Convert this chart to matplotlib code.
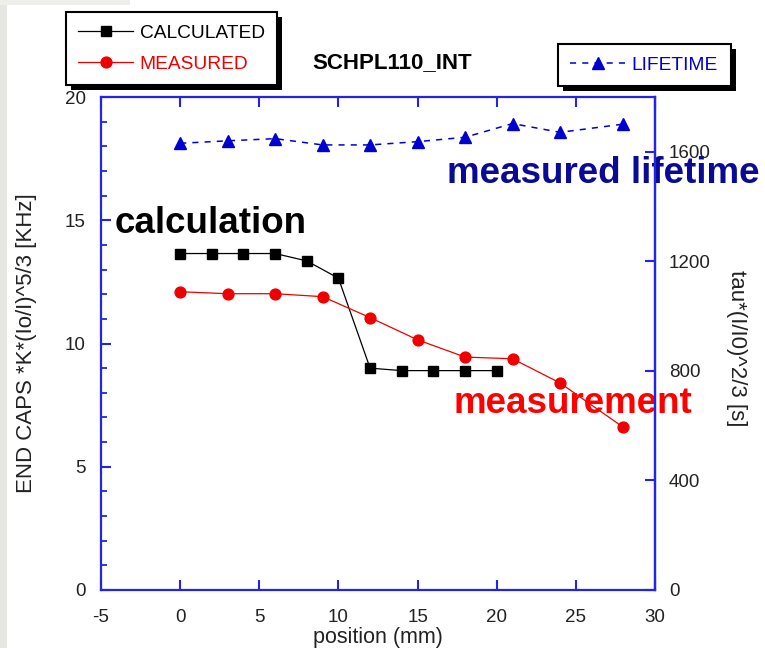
import matplotlib
matplotlib.use("Agg")
import matplotlib.pyplot as plt
from matplotlib.patches import Rectangle
from matplotlib.ticker import MultipleLocator

plt.rcParams["font.family"] = ["Liberation Sans", "DejaVu Sans"]
plt.rcParams["axes.unicode_minus"] = False

# end-cap rate vs. position
pos_calc = [0, 2, 4, 6, 8, 10, 12, 14, 16, 18, 20]
calc = [13.65, 13.65, 13.65, 13.65, 13.35, 12.65, 9.0, 8.9, 8.9, 8.9, 8.9]
pos_meas = [0, 3, 6, 9, 12, 15, 18, 21, 24, 28]
meas = [12.1, 12.02, 12.02, 11.9, 11.05, 10.15, 9.45, 9.38, 8.4, 6.6]
# scaled lifetime (right axis)
lifetime = [1631, 1640, 1648, 1625, 1625, 1637, 1653, 1703, 1671, 1701]

x_ticks = [-5, 0, 5, 10, 15, 20, 25, 30]
left_ticks = [0, 5, 10, 15, 20]
right_ticks = [0, 400, 800, 1200, 1600]

AXIS_BLUE = "#2424e8"
LIFE_BLUE = "#0000d0"
NAVY = "#0a0a96"
TICK_TXT = "#222222"

W, H = 765, 648
fig = plt.figure(figsize=(W / 100, H / 100), dpi=100)
fig.patch.set_facecolor("white")
# grey slide margin on the left
fig.add_artist(Rectangle((0, 0), 7 / W, 1, transform=fig.transFigure,
                         facecolor="#e6e6e2", edgecolor="none", zorder=-1))
fig.add_artist(Rectangle((0, 1 - 5 / H), 130 / W, 5 / H, transform=fig.transFigure,
                         facecolor="#eeeeea", edgecolor="none", zorder=-1))

ax = fig.add_axes([101 / W, 58 / H, 554 / W, 493 / H])
ax2 = ax.twinx()

h_calc, = ax.plot(pos_calc, calc, color="black", lw=0.9, marker="s",
                  markersize=7.2, label="CALCULATED")
h_meas, = ax.plot(pos_meas, meas, color="#ee0000", lw=0.9, marker="o",
                  markersize=7.8, label="MEASURED")
h_life, = ax2.plot(pos_meas, lifetime, color=LIFE_BLUE, lw=1.1,
                   linestyle=(0, (4, 4)), marker="^", markersize=8.5,
                   label="LIFETIME")

ax.set_xlim(-5, 30)
ax.set_ylim(0, 20)
ax2.set_ylim(0, 1800)
ax.set_xticks(x_ticks)
ax.set_yticks(left_ticks)
ax.yaxis.set_minor_locator(MultipleLocator(1))
ax2.set_yticks(right_ticks)

for sp in ax.spines.values():
    sp.set_color(AXIS_BLUE)
    sp.set_linewidth(1.6)
for name, sp in ax2.spines.items():
    sp.set_visible(name == "right")
    sp.set_color(AXIS_BLUE)
    sp.set_linewidth(1.6)

ax.tick_params(axis="x", direction="in", top=True, length=7.2, width=1.5,
               color=AXIS_BLUE, pad=14, labelsize=13.5, labelcolor=TICK_TXT)
ax.tick_params(axis="y", which="major", direction="in", right=False,
               length=7.2, width=1.5, color=AXIS_BLUE, pad=11,
               labelsize=13.5, labelcolor=TICK_TXT)
ax.tick_params(axis="y", which="minor", direction="in", right=False,
               length=4.5, width=1.3, color=AXIS_BLUE)
ax2.tick_params(axis="y", direction="in", length=7.2, width=1.5,
                color=AXIS_BLUE, pad=10, labelsize=13.5, labelcolor=TICK_TXT)

ax.text(0.5, -0.075, "position (mm)", transform=ax.transAxes, ha="center",
        va="top", fontsize=15.5, color=TICK_TXT)
ax.text(-0.1336, 0.5, "END CAPS *K*(Io/I)^5/3 [KHz]", transform=ax.transAxes,
        rotation=90, ha="center", va="center", fontsize=16, color=TICK_TXT)
ax.text(1.148, 0.49, "tau*(I/I0)^2/3 [s]", transform=ax.transAxes,
        rotation=270, ha="center", va="center", fontsize=16, color=TICK_TXT)
ax.text(0.525, 1.069, "SCHPL110_INT", transform=ax.transAxes, ha="center",
        va="center", fontsize=16, fontweight="bold")

ax.text(-4.12, 14.48, "calculation", fontsize=26.5, fontweight="bold",
        color="black", va="baseline")
ax.text(16.86, 16.51, "measured lifetime", fontsize=26.5, fontweight="bold",
        color=NAVY, va="baseline")
ax.text(17.24, 7.18, "measurement", fontsize=26.5, fontweight="bold",
        color="#ff0000", va="baseline")

leg_kw = dict(frameon=True, fancybox=False, edgecolor="black", framealpha=1,
              fontsize=13.8, handlelength=2.85, handletextpad=0.35,
              borderpad=0.65, labelspacing=0.7, borderaxespad=0,
              bbox_transform=fig.transFigure, loc="upper left")
leg1 = fig.legend(handles=[h_calc, h_meas],
                  bbox_to_anchor=(66 / W, 1 - 12 / H), **leg_kw)
leg2 = fig.legend(handles=[h_life],
                  bbox_to_anchor=(558 / W, 1 - 44 / H), **leg_kw)
for leg, colors in ((leg1, ["black", "#ee0000"]), (leg2, [LIFE_BLUE])):
    leg.get_frame().set_linewidth(1.5)
    for txt, c in zip(leg.get_texts(), colors):
        txt.set_color(c)

# hard drop shadow behind each legend box
fig.canvas.draw()
for leg in (leg1, leg2):
    bb = leg.get_frame().get_window_extent()
    fig.add_artist(Rectangle((bb.x0 + 5, bb.y0 - 5), bb.width, bb.height,
                             transform=None, facecolor="black",
                             edgecolor="none", zorder=leg.get_zorder() - 0.1))

fig.savefig("out.png", dpi=100)
